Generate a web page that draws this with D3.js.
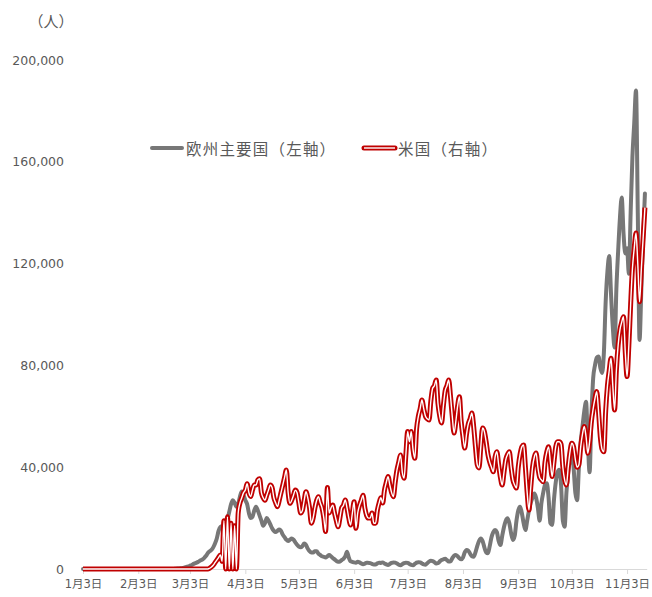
<!DOCTYPE html>
<html><head><meta charset="utf-8">
<script src="https://cdn.jsdelivr.net/npm/d3@7"></script>
<style>
body{margin:0;background:#fff;}
svg{display:block;}
</style>
</head><body>
<svg id="chart" width="652" height="597"></svg>
<script>
// ---- data ----
const startDate = "2020-01-03";
const axisEndDate = "2020-11-14";
const tickDates = ["2020-01-03","2020-02-03","2020-03-03","2020-04-03","2020-05-03","2020-06-03","2020-07-03","2020-08-03","2020-09-03","2020-10-03","2020-11-03"];
const tickLabels = ["1月3日","2月3日","3月3日","4月3日","5月3日","6月3日","7月3日","8月3日","9月3日","10月3日","11月3日"];
const yTicks = [0, 40000, 80000, 120000, 160000, 200000];
const unitLabel = "（人）";
const seriesNames = ["欧州主要国（左軸）", "米国（右軸）"];

// Daily new cases, Europe major countries (left axis), from Jan 3
const europe = [
  0,0,0,0,0,0,0,0,0,0,0,0,0,0,0,0,0,0,0,0,0,0,0,0,0,0,0,0,0,
  0,0,0,0,0,0,0,0,0,0,0,0,0,0,0,0,0,0,0,0,0,0,50,100,150,200,300,400,600,
  800,1000,1300,1600,2000,2300,2600,3000,3400,3800,4400,5200,6300,7000,7500,8500,10000,12000,15000,16500,16800,16000,17000,19500,22500,25500,27000,26000,24500,25500,28500,
  30500,29000,27000,25500,22000,20000,20500,23000,24500,23000,21000,19000,17000,18000,20000,19000,17500,16000,15000,14500,15000,15500,15000,13500,12500,11500,11000,11500,12000,11500,
  10500,9500,8800,8500,9000,10000,9500,8000,7000,6500,6500,7000,7000,6000,5500,5000,4800,4500,5000,5500,5000,4300,3800,3200,2800,2900,3500,4000,5000,6800,4500,
  3000,2800,2600,2500,2800,2600,2200,1900,2100,2500,2400,2300,2000,1800,1800,2200,2500,2400,2600,2200,1800,1600,2000,2400,2600,2500,2200,1700,1500,1900,
  2300,2500,2400,2000,1600,1500,2000,2500,2700,2600,2200,1800,1700,2300,2900,3200,3100,2700,2200,2300,3000,3500,3800,4000,3500,2900,3000,4200,5200,5500,5000,
  4200,3800,4500,6500,7500,7200,6000,5000,4800,6500,9000,11000,12000,11000,8500,6500,6200,9000,12500,14500,15300,14500,11000,9400,13000,16500,19000,19900,18000,14000,11400,
  13000,19000,23000,24500,22000,18000,15300,19000,23000,26000,28000,29700,28000,24000,19000,26000,30000,33000,33700,28000,18000,17300,27000,34000,38000,39000,33000,19000,16600,30000,
  38000,43000,45600,40000,30000,27000,40000,50000,56000,62000,65700,50000,38000,60000,75000,80000,83000,83500,79000,77000,85000,105000,117000,123000,108000,95000,87000,110000,125000,138000,146000,
  132000,124000,126000,116000,140000,162000,175000,188000,140000,90000,110000,130000,147500
];

// Daily new cases, United States (right axis), from Jan 3
const usa = [
  0,0,0,0,0,0,0,0,0,0,0,0,0,0,0,0,0,0,0,0,0,0,0,0,0,0,0,0,0,
  0,0,0,0,0,0,0,0,0,0,0,0,0,0,0,0,0,0,0,0,0,0,0,0,0,0,0,0,0,
  0,0,0,0,0,0,0,0,0,0,0,0,0,300,800,1500,2500,3500,4500,5500,3000,19000,0,20500,0,18000,0,17000,0,22000,26000,
  28000,30000,31000,33500,30000,28500,31000,33000,33000,35000,35500,30000,28000,27000,29000,31000,33000,32000,28000,26000,24500,27000,30000,33000,36000,38900,30000,25800,27000,29000,
  31000,30000,26000,22000,23000,27000,30400,28000,24000,18000,20000,24000,27000,28400,26000,24000,20000,14700,32000,22000,24000,25100,22000,19000,16600,20000,24000,25000,27100,24000,20000,
  17300,22000,26400,16000,22000,25000,27000,29000,24000,21000,20000,20000,22000,18000,18000,23000,26000,28000,25900,31000,34000,36300,33000,30000,28400,34000,38900,42000,44800,38000,
  35700,45000,54000,50000,54000,47000,43500,55000,60000,63000,66400,63000,60000,59000,58500,66000,71000,72000,74300,65000,60000,57400,64000,70000,72000,74300,68000,60000,53400,58000,64000,
  67700,58000,52000,47500,53000,57000,59000,61300,56000,48000,41000,39700,48000,55400,54000,50000,45000,42000,40000,38200,44000,46100,41000,36000,33000,38000,43000,45000,46100,40000,35000,
  33000,31800,40000,45000,48000,48700,40000,30000,23200,32000,40000,44000,45600,40000,36000,35000,34300,42000,46000,48000,42000,36300,42000,48000,50000,50000,49000,40000,35000,33000,
  40000,46000,49400,48000,43000,40000,41000,48000,53000,56000,52000,45500,50000,58000,63000,67000,69700,62000,52000,47000,46100,62000,72000,78000,82800,72000,62500,78000,88000,94000,97000,
  99100,85000,75600,88000,104000,118000,126000,132000,120000,105000,118000,130000,142000
];

// ---- chart ----
const svg = d3.select("#chart");
const parse = d3.utcParse("%Y-%m-%d");
const start = parse(startDate);
const dates = d3.range(europe.length).map(i => d3.utcDay.offset(start, i));

const x = d3.scaleUtc().domain([start, parse(axisEndDate)]).range([83, 646.7]);
const y = d3.scaleLinear().domain([0, 200000]).range([569, 60]);

const textColor = "#595959";
const numFont = "'DejaVu Sans', 'Noto Sans CJK JP', sans-serif";
const cjkFont = "'Noto Sans CJK JP', 'DejaVu Sans', sans-serif";

// x axis
const xAxis = svg.append("g")
  .attr("transform", `translate(0,${y(0)})`)
  .call(d3.axisBottom(x)
    .tickValues(tickDates.map(parse))
    .tickSizeInner(5).tickSizeOuter(0).tickPadding(6)
    .tickFormat((d, i) => tickLabels[i]));
xAxis.select(".domain").attr("stroke", "#d9d9d9").attr("stroke-width", 1.2);
xAxis.selectAll(".tick line").attr("stroke", "#d9d9d9");
xAxis.selectAll(".tick text")
  .attr("fill", textColor)
  .style("font-family", numFont)
  .style("font-size", "11.5px");

// y axis labels (no line)
const yAxis = svg.append("g")
  .attr("transform", "translate(64,0)")
  .call(d3.axisLeft(y).tickValues(yTicks).tickSize(0).tickPadding(0)
    .tickFormat(d3.format(",")));
yAxis.select(".domain").remove();
yAxis.selectAll(".tick text")
  .attr("fill", textColor)
  .style("font-family", numFont)
  .style("font-size", "12.5px");

// unit label
svg.append("text")
  .attr("x", 51).attr("y", 20)
  .attr("text-anchor", "middle").attr("dominant-baseline", "central")
  .attr("fill", textColor)
  .style("font-family", cjkFont).style("font-size", "15px")
  .text(unitLabel);

// lines
const line = d3.line()
  .x((d, i) => x(dates[i]))
  .y(d => y(d))
  .curve(d3.curveMonotoneX);

svg.append("path")
  .attr("d", line(europe))
  .attr("fill", "none")
  .attr("stroke", "#777777")
  .attr("stroke-width", 4)
  .attr("stroke-linejoin", "round")
  .attr("stroke-linecap", "round");

svg.append("path")
  .attr("d", line(usa))
  .attr("fill", "none")
  .attr("stroke", "#c00000")
  .attr("stroke-width", 5)
  .attr("stroke-linejoin", "round");
svg.append("path")
  .attr("d", line(usa))
  .attr("fill", "none")
  .attr("stroke", "#ffffff")
  .attr("stroke-width", 1.4)
  .attr("stroke-linejoin", "round");

// legend
const lg = svg.append("g");
lg.append("line").attr("x1", 152).attr("x2", 182).attr("y1", 148).attr("y2", 148)
  .attr("stroke", "#777777").attr("stroke-width", 4).attr("stroke-linecap", "round");
lg.append("text").attr("x", 186).attr("y", 148).attr("dominant-baseline", "central")
  .attr("fill", textColor).style("font-family", cjkFont).style("font-size", "15.5px")
  .style("letter-spacing", "1.2px")
  .text(seriesNames[0]);
lg.append("line").attr("x1", 364).attr("x2", 395).attr("y1", 148).attr("y2", 148)
  .attr("stroke", "#c00000").attr("stroke-width", 5).attr("stroke-linecap", "round");
lg.append("line").attr("x1", 364).attr("x2", 395).attr("y1", 148).attr("y2", 148)
  .attr("stroke", "#ffffff").attr("stroke-width", 1.4);
lg.append("text").attr("x", 398).attr("y", 148).attr("dominant-baseline", "central")
  .attr("fill", textColor).style("font-family", cjkFont).style("font-size", "15.5px")
  .style("letter-spacing", "1.2px")
  .text(seriesNames[1]);
</script>
</body></html>
